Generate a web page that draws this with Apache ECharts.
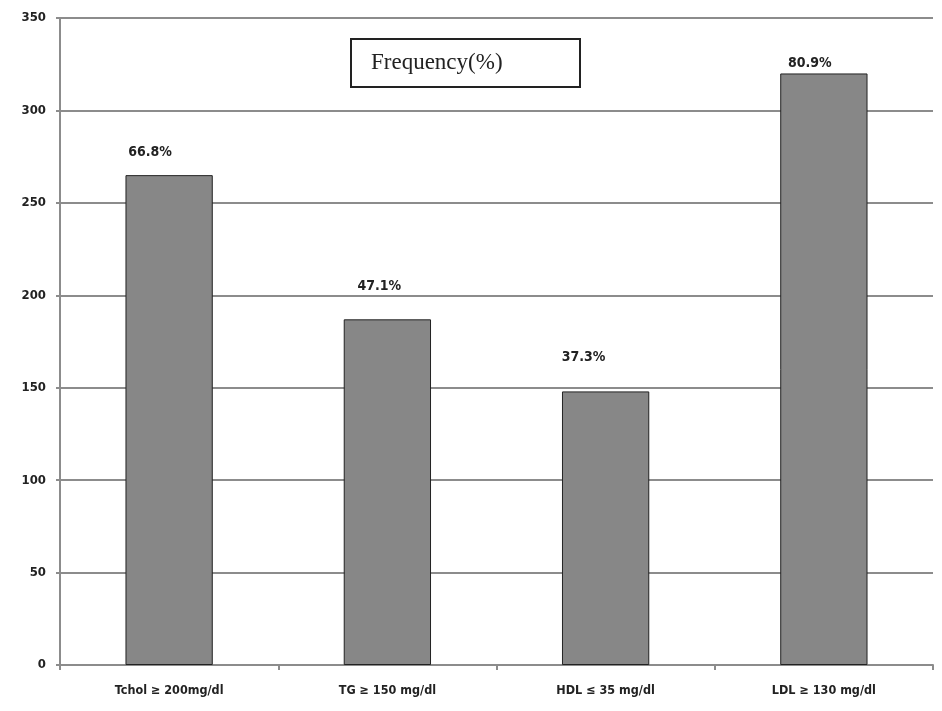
<!DOCTYPE html>
<html>
<head>
<meta charset="utf-8">
<script src="https://cdn.jsdelivr.net/npm/echarts@6/dist/echarts.min.js"></script>
<style>
  html, body { margin: 0; padding: 0; background: #fff; }
  #main { width: 942px; height: 711px; }
</style>
</head>
<body>
<div id="main"></div>
<script>
const categories = ['Tchol ≥ 200mg/dl', 'TG ≥ 150 mg/dl', 'HDL ≤ 35 mg/dl', 'LDL ≥ 130 mg/dl']
const counts = [265, 187, 148, 320]
const percents = ['66.8%', '47.1%', '37.3%', '80.9%']
// label nudges, the labels in the original are not centred on the bars
const labelOffsets = [[-19, -11], [-8, -21], [-22, -22], [-14, 2]]

const narrow = "'Liberation Sans Narrow', 'DejaVu Sans Condensed', 'Liberation Sans', sans-serif"
const gridGrey = '#8c8c8c'

var myChart = echarts.init(document.getElementById('main'))

myChart.setOption({
  animation: false,
  backgroundColor: '#fff',
  title: {
    text: 'Frequency(%)',
    left: 351,
    top: 39,
    padding: [11, 78, 11, 20],
    borderColor: '#222',
    borderWidth: 2,
    textStyle: {
      fontFamily: "'Liberation Serif', 'DejaVu Serif', serif",
      fontWeight: 'normal',
      fontSize: 23,
      lineHeight: 26,
      color: '#222'
    }
  },
  grid: { left: 60, right: 9, top: 18, bottom: 46 },
  xAxis: {
    type: 'category',
    data: categories,
    axisLine: { lineStyle: { color: gridGrey, width: 2 } },
    axisTick: { show: true, length: 5, lineStyle: { color: gridGrey, width: 2 } },
    axisLabel: {
      margin: 19,
      fontFamily: narrow,
      fontWeight: 'bold',
      fontSize: 12.5,
      color: '#222'
    }
  },
  yAxis: {
    type: 'value',
    min: 0,
    max: 350,
    interval: 50,
    axisLine: { show: true, lineStyle: { color: gridGrey, width: 2 } },
    axisTick: { show: true, length: 4, lineStyle: { color: gridGrey, width: 2 } },
    splitLine: { lineStyle: { color: gridGrey, width: 2 } },
    axisLabel: {
      margin: 14,
      fontFamily: narrow,
      fontWeight: 'bold',
      fontSize: 13,
      color: '#222'
    }
  },
  series: [{
    type: 'bar',
    barWidth: '40%',
    data: counts.map((v, i) => ({
      value: v,
      label: { offset: labelOffsets[i] }
    })),
    itemStyle: {
      color: '#878787',
      borderColor: '#222',
      borderWidth: 1
    },
    label: {
      show: true,
      position: 'top',
      formatter: p => percents[p.dataIndex],
      fontFamily: narrow,
      fontWeight: 'bold',
      fontSize: 14,
      color: '#222'
    }
  }]
})
</script>
</body>
</html>
